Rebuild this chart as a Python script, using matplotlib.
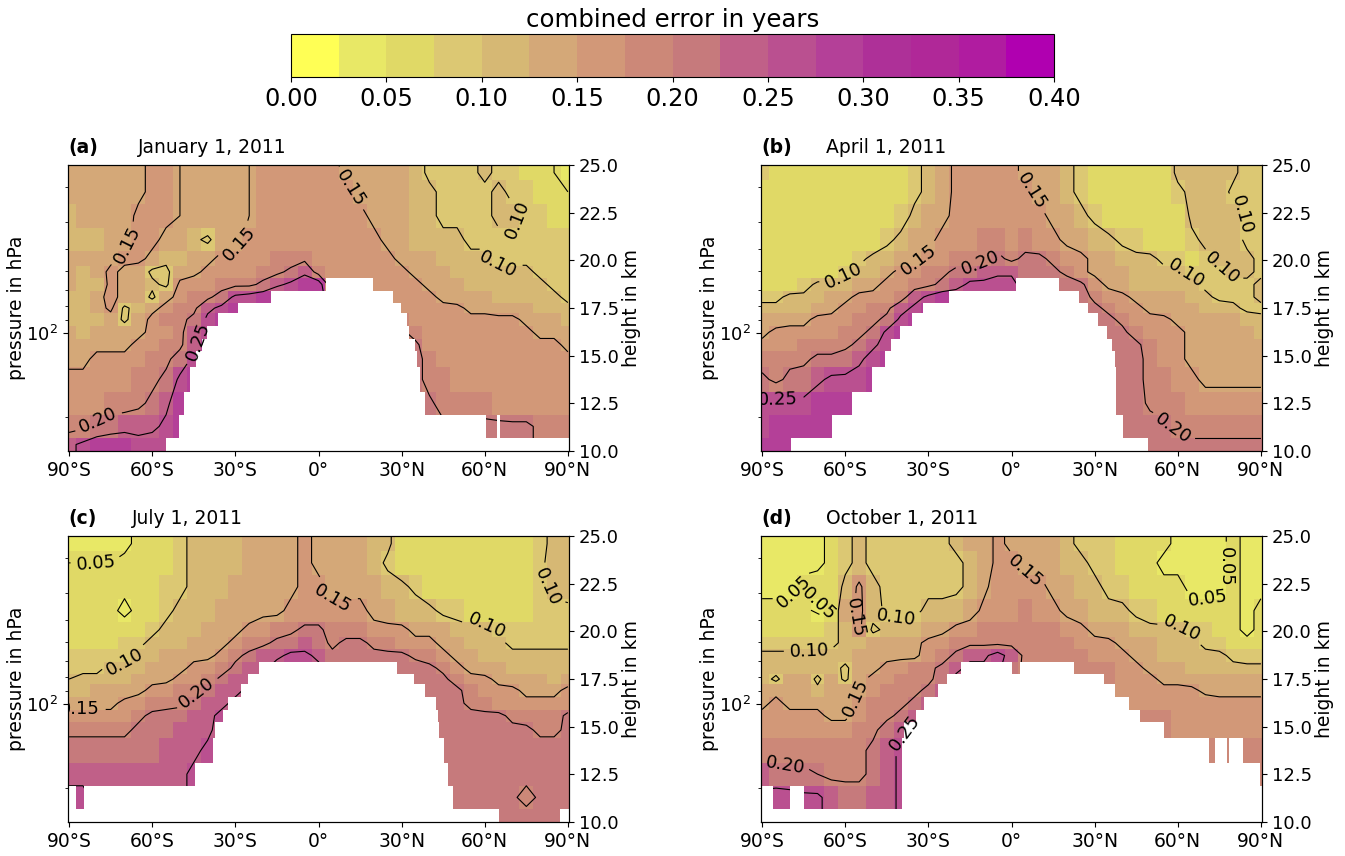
import numpy as np
import matplotlib
matplotlib.use('Agg')
import matplotlib.pyplot as plt
from matplotlib.colors import ListedColormap, BoundaryNorm
from matplotlib.ticker import LogLocator, NullFormatter, LogFormatterMathtext

# latitude columns, every 5 deg
lat = np.arange(-90, 95, 5)
# height rows in km, the grid is not even
height_edges = np.array([10, 10.68, 11.9, 13.12, 14.38, 15.27, 15.88, 16.58, 17.22,
                         17.77, 18.38, 19.09, 19.7, 20.47, 21.7, 22.98, 24.2, 25])

# error in 1/100 years, first row = top of the panel
jan = [
 [13,14,14,14,14,14,16,16,15,15,15,15,15,15,16,16,16,16,16,16,14,14,14,14,13,12,9,9,9,9,11,9,8,7,6,5,4],
 [13,13,13,14,14,14,16,16,15,15,15,15,15,15,16,16,16,16,16,16,16,14,14,13,13,12,11,9,9,9,9,11,9,8,7,6,5],
 [12,13,13,13,13,16,16,16,15,15,15,15,15,15,16,16,16,16,16,16,16,16,14,13,13,12,11,9,9,9,9,11,11,9,8,7,6],
 [12,12,12,13,14,16,16,14,14,11,9,13,14,16,16,16,16,16,16,16,16,16,16,14,13,12,12,11,11,9,9,9,9,9,9,8,8],
 [13,13,13,14,16,16,14,11,12,13,14,16,16,16,17,18,18,19,17,16,16,16,16,16,14,13,13,12,12,11,11,9,9,9,8,8,9],
 [13,11,13,16,14,13,9,9,13,14,16,16,16,17,18,19,21,24,18,16,16,16,16,16,16,14,13,13,12,12,12,11,11,11,9,9,8],
 [13,11,12,16,14,13,11,9,16,17,17,18,19,19,21,24,26,28,28,16,16,16,17,16,16,16,14,13,13,12,12,12,12,11,11,9,9],
 [11,12,14,16,14,13,9,14,16,18,19,22,26,27,28,30,30,30,30,18,18,18,18,17,16,16,16,14,13,13,13,12,12,12,11,11,9],
 [12,11,13,16,9,12,14,16,18,19,24,26,28,30,30,30,30,30,30,21,21,21,21,21,17,16,16,16,16,14,14,13,13,13,12,11,11],
 [12,12,12,13,9,13,16,18,19,21,26,28,30,30,30,30,30,30,30,22,22,22,22,22,18,17,16,16,16,16,16,16,16,14,13,13,12],
 [13,12,13,13,13,14,16,17,19,23,27,29,30,30,30,30,30,30,30,22,22,22,22,22,21,18,16,16,16,16,16,16,16,16,14,14,14],
 [14,14,14,14,14,16,17,18,19,24,28,30,30,30,30,30,30,30,30,22,22,22,22,22,22,21,17,16,16,16,16,16,16,16,16,16,14],
 [14,14,16,16,16,17,18,19,22,26,28,30,30,30,30,30,30,30,30,22,22,22,22,22,22,22,18,17,17,16,16,16,16,16,16,16,16],
 [16,16,16,16,17,18,19,21,26,28,28,30,30,30,30,30,30,30,30,22,22,22,22,22,22,22,18,18,17,17,16,16,16,16,16,16,16],
 [17,17,17,18,18,19,21,24,28,30,30,30,30,30,30,30,30,30,30,22,22,22,22,22,22,22,21,18,18,18,18,17,16,16,16,16,16],
 [18,19,21,22,23,23,24,26,29,30,30,30,30,30,30,30,30,30,30,22,22,22,22,22,22,22,21,21,21,21,21,21,21,21,19,19,19],
 [24,26,28,29,29,27,27,27,30,30,30,30,30,30,30,30,30,30,30,22,22,22,22,22,21,21,21,21,21,21,21,21,21,21,19,19,19],
]
apr = [
 [8,7,7,7,6,6,6,6,6,6,7,9,11,13,16,16,16,16,16,14,14,13,11,9,6,6,6,6,6,7,11,12,12,12,11,8,8],
 [7,7,7,6,6,6,6,6,6,6,7,9,11,13,16,16,16,16,16,16,14,13,11,9,6,6,6,6,6,7,9,11,12,12,9,8,8],
 [7,7,7,6,6,6,6,6,6,7,8,11,13,14,16,16,17,17,17,16,16,14,13,11,9,7,6,6,6,6,6,11,12,12,12,9,8],
 [6,6,6,6,6,6,6,6,7,9,11,13,14,16,17,17,18,18,17,18,17,16,14,13,12,11,9,8,7,7,7,9,11,12,12,9,9],
 [6,6,6,6,6,6,6,9,11,12,13,14,16,17,18,18,19,21,19,21,21,19,17,16,14,14,12,11,11,9,8,7,9,11,12,11,9],
 [6,6,6,6,6,6,9,11,12,14,16,17,18,19,21,22,23,24,24,22,21,21,19,16,14,14,13,12,12,11,11,9,8,9,11,11,9],
 [6,6,7,8,11,12,12,13,14,16,17,18,19,21,23,26,26,27,27,22,22,22,22,21,17,14,13,12,12,12,12,11,9,9,9,9,11],
 [9,9,11,11,12,13,14,16,16,17,18,23,26,28,28,30,30,30,30,22,22,22,22,22,19,17,16,14,13,13,13,12,11,9,9,9,11],
 [11,11,12,12,13,14,16,17,18,19,23,26,28,30,30,30,30,30,30,22,22,22,22,22,21,19,17,16,14,13,13,13,12,12,11,9,9],
 [13,13,14,14,16,16,17,18,19,21,26,28,30,30,30,30,30,30,30,22,22,22,22,22,22,21,19,17,16,16,14,14,13,13,13,12,11],
 [14,16,16,16,17,17,18,19,21,26,28,30,30,30,30,30,30,30,30,22,22,22,22,22,22,22,21,18,17,16,16,14,13,13,13,13,12],
 [16,16,17,18,18,18,19,21,24,27,28,30,30,30,30,30,30,30,30,22,22,22,22,22,22,22,22,21,18,17,16,14,14,14,14,14,13],
 [18,18,19,19,21,21,22,24,27,29,30,30,30,30,30,30,30,30,30,22,22,22,22,22,22,22,22,22,18,17,16,14,14,14,14,14,14],
 [21,19,21,22,24,26,26,27,29,30,30,30,30,30,30,30,30,30,30,22,22,22,22,22,22,22,22,22,18,18,17,16,14,14,14,14,14],
 [26,26,26,26,28,28,28,30,30,30,30,30,30,30,30,30,30,30,30,22,22,22,22,22,22,22,22,22,19,18,18,17,17,17,17,17,17],
 [27,28,28,28,28,28,30,30,30,30,30,30,30,30,30,30,30,30,30,22,22,22,22,22,22,22,22,22,22,21,19,18,18,18,18,18,18],
 [28,29,29,30,30,30,30,30,30,30,30,30,30,30,30,30,30,30,30,22,22,22,22,22,22,22,22,22,22,22,22,21,21,21,21,21,21],
]
jul = [
 [4,4,4,4,4,6,7,7,9,11,11,12,12,13,13,13,14,16,14,14,14,13,12,11,7,6,6,6,6,6,6,6,7,7,9,11,11],
 [5,5,5,5,6,7,7,7,9,11,11,12,12,13,13,13,14,16,14,14,14,13,12,9,7,6,6,6,6,6,6,6,7,7,9,12,11],
 [6,6,6,6,6,6,7,8,9,11,12,12,13,13,14,14,14,16,16,14,14,14,13,12,11,9,7,6,6,6,6,6,7,7,9,11,12],
 [6,6,6,6,4,6,7,9,11,12,12,13,13,13,14,14,16,17,17,16,16,16,14,13,12,12,11,9,8,7,7,7,7,7,8,9,9],
 [6,6,6,6,7,7,9,11,12,12,13,13,14,16,17,18,19,21,21,18,18,18,16,16,16,14,14,13,12,11,11,9,8,8,8,9,9],
 [7,7,7,7,8,9,11,12,12,13,13,14,16,18,19,21,22,23,22,19,21,21,19,18,17,16,16,14,13,12,12,11,9,9,9,9,9],
 [8,8,9,9,9,11,12,13,13,14,14,16,19,21,23,24,26,26,24,21,21,21,21,21,21,19,18,16,14,13,12,12,11,11,11,11,11],
 [9,9,9,11,11,12,13,14,14,16,17,18,21,23,24,27,27,27,26,22,22,22,22,22,22,22,21,19,16,14,13,13,12,12,11,11,11],
 [10,11,11,12,12,13,14,14,16,17,18,21,23,24,27,27,27,27,27,22,22,22,22,22,22,22,22,21,18,16,16,14,13,13,13,12,13],
 [11,12,13,13,13,14,16,17,18,19,21,23,24,26,27,27,27,27,27,22,22,22,22,22,22,22,22,22,21,18,17,16,16,14,14,14,16],
 [14,14,14,14,16,17,18,19,19,22,24,24,26,27,27,27,27,27,27,22,22,22,22,22,22,22,22,22,21,19,18,17,17,16,16,16,17],
 [16,16,16,16,16,19,21,21,22,23,24,26,27,27,27,27,27,27,27,22,22,22,22,22,22,22,22,22,22,21,21,21,19,18,18,18,21],
 [19,19,19,19,19,21,22,22,23,23,24,27,27,27,27,27,27,27,27,22,22,22,22,22,22,22,22,22,22,22,22,21,21,21,19,19,21],
 [22,22,22,22,22,22,22,23,23,24,26,27,27,27,27,27,27,27,27,22,22,22,22,22,22,22,22,22,22,22,22,22,22,22,22,22,22],
 [24,24,24,24,24,24,24,24,24,26,27,27,27,27,27,27,27,27,27,22,22,22,22,22,22,22,22,22,22,22,22,22,22,22,22,22,22],
 [26,26,24,24,24,24,24,24,24,26,27,27,27,27,27,27,27,27,27,22,22,22,22,22,22,22,22,22,22,22,22,22,21,18,21,22,22],
 [26,26,24,24,24,24,24,24,24,26,27,27,27,27,27,27,27,27,27,22,22,22,22,22,22,22,22,22,22,22,22,22,22,22,22,22,22],
]
oct_ = [
 [4,4,4,4,4,6,9,11,9,9,8,9,9,9,11,13,13,16,14,14,14,13,11,9,8,8,7,7,7,6,4,4,4,4,6,4,4],
 [4,4,4,4,4,6,9,11,9,9,8,9,9,9,9,11,13,16,16,14,14,13,12,11,9,8,7,7,6,4,4,4,4,4,6,4,4],
 [4,4,4,6,7,7,11,16,11,9,9,9,9,9,9,11,14,17,17,17,16,14,13,12,11,9,8,7,6,6,6,4,4,4,6,4,4],
 [6,6,6,6,4,7,13,16,12,9,9,9,11,11,12,13,16,17,17,18,17,16,14,13,12,11,11,9,8,7,6,6,6,6,6,4,6],
 [7,7,7,7,7,8,12,16,9,11,12,12,13,14,16,17,18,18,18,18,18,18,17,16,14,13,13,12,11,11,11,9,8,7,6,4,6],
 [8,8,8,8,8,9,11,11,13,13,14,14,16,17,18,19,19,19,19,18,18,18,18,17,16,16,14,13,13,12,12,11,9,8,7,6,7],
 [11,11,11,11,11,11,12,14,14,14,14,14,17,18,21,24,24,27,23,19,19,19,19,18,17,17,16,14,13,12,12,12,11,11,9,8,8],
 [11,12,12,12,12,12,9,13,14,16,17,18,19,21,24,26,26,26,22,19,19,19,19,18,18,18,17,16,14,13,13,12,12,12,11,11,11],
 [12,9,13,13,9,13,9,14,16,17,18,19,19,22,26,26,26,26,26,19,19,19,19,19,18,18,17,17,16,14,14,13,13,13,13,13,13],
 [14,14,13,13,11,13,14,14,17,18,18,19,21,24,26,26,26,26,26,19,19,19,19,19,19,18,17,17,17,16,16,16,14,14,14,14,14],
 [14,16,14,14,14,14,14,17,18,19,19,21,24,26,26,26,26,26,26,19,19,19,19,19,19,18,18,17,17,17,17,17,17,16,16,16,16],
 [16,16,16,16,16,14,14,17,18,19,21,23,26,26,26,26,26,26,26,19,19,19,19,19,19,19,18,18,18,18,17,17,17,17,17,17,17],
 [17,17,17,17,17,17,17,18,19,22,24,26,26,26,26,26,26,26,26,19,19,19,19,19,19,19,19,19,18,18,17,17,17,17,17,17,17],
 [18,18,18,18,18,18,18,19,21,23,26,26,26,26,26,26,26,26,26,19,19,19,19,19,19,19,19,19,18,18,18,18,18,18,18,18,18],
 [23,22,21,21,20,19,19,19,21,23,26,26,26,26,26,26,26,26,26,19,19,19,19,19,19,19,19,19,18,18,18,18,18,18,18,18,18],
 [26,27,27,26,26,23,22,22,23,23,26,26,26,26,26,26,26,26,26,19,19,19,19,19,19,19,19,19,18,18,18,18,18,18,18,18,18],
 [26,27,27,26,26,23,22,22,23,23,26,26,26,26,26,26,26,26,26,19,19,19,19,19,19,19,19,19,18,18,18,18,18,18,18,18,18],
]

# latitude ranges with no data, one list per height row, from the bottom up
jan_gaps = [[(-55, 92)], [(-50.3, 60.4), (64.4, 65.4)], [(-48.4, 38.5)], [(-46.3, 36.7)],
            [(-44.3, 35.5)], [(-42, 34.8)], [(-40.3, 32.5)], [(-36.4, 31.8)], [(-29, 29.8)],
            [(-17, 27)], [(2.7, 19.5)]]
apr_gaps = [[(-79.5, 49.4)], [(-64.6, 40.3)], [(-57.5, 37.8)], [(-50.3, 37.8)], [(-45.5, 37.5)],
            [(-43.6, 36.3)], [(-40.3, 34.3)], [(-36, 31.3)], [(-32, 27.6)], [(-22.4, 24.3)],
            [(1.5, 17.2)]]
jul_gaps = [[(-92, 65.2), (87, 92)], [(-92, -87.5), (-84.5, 48.4)], [(-44.6, 46.6)], [(-38, 45.4)],
            [(-37.5, 43.6)], [(-34.5, 43.3)], [(-32.5, 42.4)], [(-28, 38.4)], [(-25.5, 34.6)],
            [(-21.3, 28.4)]]
oct_gaps = [[(-92, 92)], [(-92, -86), (-80, -75), (-39.6, 92)], [(-92, -90), (-39.6, 89.5)],
            [(-39.6, 71.3), (73.5, 77.6), (78.5, 83.5)], [(-38.8, 55.2)], [(-34.6, 46.3)],
            [(-31.6, 42.5)], [(-26.6, 37.3)], [(-23.4, 33.3)], [(-18.3, 0), (3, 22.4)]]

# where the contour labels sit (lat, km)
jan_labels = [(-30, 21), (-71, 21), (10.6, 23.7), (75.8, 21.8), (65.4, 19.9), (-78.7, 11.3), (-45, 15.8)]
apr_labels = [(-61.2, 19.5), (-34.3, 20.2), (-11.2, 19.9), (6.4, 23.5), (83.5, 22.4), (76, 19.6),
              (62, 19.2), (57.5, 11.1), (-84, 12.4)]
jul_labels = [(-80.3, 23.6), (-69.8, 18.2), (-86, 16.1), (-44, 16.8), (4, 21.5), (59.3, 20), (82.4, 22.3)]
oct_labels = [(-80, 22.2), (-68.6, 21.5), (-56.7, 20.7), (-73, 18.7), (-40, 19.8), (-56, 16.5),
              (2.2, 22.4), (78.5, 23.4), (70.9, 21), (59.7, 19.7), (-40, 14.8), (-82, 12.9)]

panel_tags = ['(a)', '(b)', '(c)', '(d)']
panel_dates = ['January 1, 2011', 'April 1, 2011', 'July 1, 2011', 'October 1, 2011']
date_offset = [70, 65, 64, 65]
lat_ticks = [-90, -60, -30, 0, 30, 60, 90]
lat_names = ['90°S', '60°S', '30°S', '0°', '30°N', '60°N', '90°N']
cbar_ticks = [0.0, 0.05, 0.10, 0.15, 0.20, 0.25, 0.30, 0.35, 0.40]

colors = ['#ffff55', '#e8e866', '#e0d966', '#dcc873', '#d6b874', '#d4a878', '#d29878', '#cc8878',
          '#c67a7c', '#c06088', '#ba5090', '#b44098', '#ae3098', '#b02898', '#b01ca0', '#b000b0']
cmap = ListedColormap(colors)
norm = BoundaryNorm(np.arange(0, 0.425, 0.025), 16)

W, H = 1345, 856
fig = plt.figure(figsize=(W / 100, H / 100), dpi=100)

lat_edges = np.arange(-92.5, 95, 5)
height_mid = (height_edges[:-1] + height_edges[1:]) / 2
contour_y = np.concatenate([[10], height_mid, [25]])

# pixel box of each panel (left, top)
boxes = [(68, 165), (761, 165), (68, 536), (761, 536)]
fields = [jan, apr, jul, oct_]
gaps = [jan_gaps, apr_gaps, jul_gaps, oct_gaps]
labels = [jan_labels, apr_labels, jul_labels, oct_labels]

for i in range(4):
    left, top = boxes[i]
    ax = fig.add_axes([left / W, 1 - (top + 286) / H, 501 / W, 286 / H])
    z = np.flipud(np.array(fields[i], dtype=float)) / 100

    ax.pcolormesh(lat_edges, height_edges, z, cmap=cmap, norm=norm, shading='flat', zorder=1)

    zc = np.vstack([z[0], z, z[-1]])
    cs = ax.contour(lat, contour_y, zc, levels=[0.05, 0.10, 0.15, 0.20, 0.25, 0.30],
                    colors='black', linewidths=0.8, zorder=2)
    ax.clabel(cs, fmt='%.2f', manual=labels[i], inline=True, fontsize=13)

    # blank out the levels below the surface
    for r, spans in enumerate(gaps[i]):
        for a, b in spans:
            ax.barh(height_mid[r], b - a, left=a, height=height_edges[r + 1] - height_edges[r],
                    color='white', linewidth=0, zorder=2.4)

    ax.set_xlim(-90.4, 90.4)
    ax.set_ylim(10, 25)
    ax.set_xticks(lat_ticks)
    ax.set_xticklabels(lat_names)

    ax2 = ax.twinx()
    ax2.yaxis.tick_left()
    ax2.yaxis.set_label_position('left')
    ax2.set_yscale('log')
    ax2.set_ylim(265, 25)
    ax2.yaxis.set_major_locator(LogLocator(base=10, numticks=5))
    ax2.yaxis.set_major_formatter(LogFormatterMathtext())
    ax2.yaxis.set_minor_locator(LogLocator(base=10, subs=np.arange(2, 10), numticks=5))
    ax2.yaxis.set_minor_formatter(NullFormatter())
    ax2.tick_params(axis='y', which='major', labelsize=13)
    ax2.set_ylabel('pressure in hPa', fontsize=13.5, labelpad=0)

    # twinx puts the first axis back on the left, so this comes after it
    ax.yaxis.tick_right()
    ax.yaxis.set_label_position('right')
    ax.set_yticks(np.arange(10, 25.1, 2.5))
    ax.tick_params(axis='x', labelsize=13.5)
    ax.tick_params(axis='y', labelsize=13)
    ax.set_ylabel('height in km', fontsize=13.5, labelpad=2)

    ax.text(0, 1 + 8 / 286, panel_tags[i], transform=ax.transAxes, fontsize=13.5,
            fontweight='bold', va='bottom')
    ax.text(date_offset[i] / 501, 1 + 8 / 286, panel_dates[i], transform=ax.transAxes,
            fontsize=13.5, va='bottom')

cax = fig.add_axes([291 / W, 1 - 77 / H, 763 / W, 43 / H])
sm = plt.cm.ScalarMappable(norm=norm, cmap=cmap)
cb = fig.colorbar(sm, cax=cax, orientation='horizontal', ticks=cbar_ticks, spacing='proportional')
cb.ax.set_xticklabels(['%.2f' % t for t in cbar_ticks])
cb.ax.minorticks_off()
cb.ax.tick_params(labelsize=17.3)
cb.ax.set_title('combined error in years', fontsize=17.6, pad=5)

fig.savefig('out.png', dpi=100)
